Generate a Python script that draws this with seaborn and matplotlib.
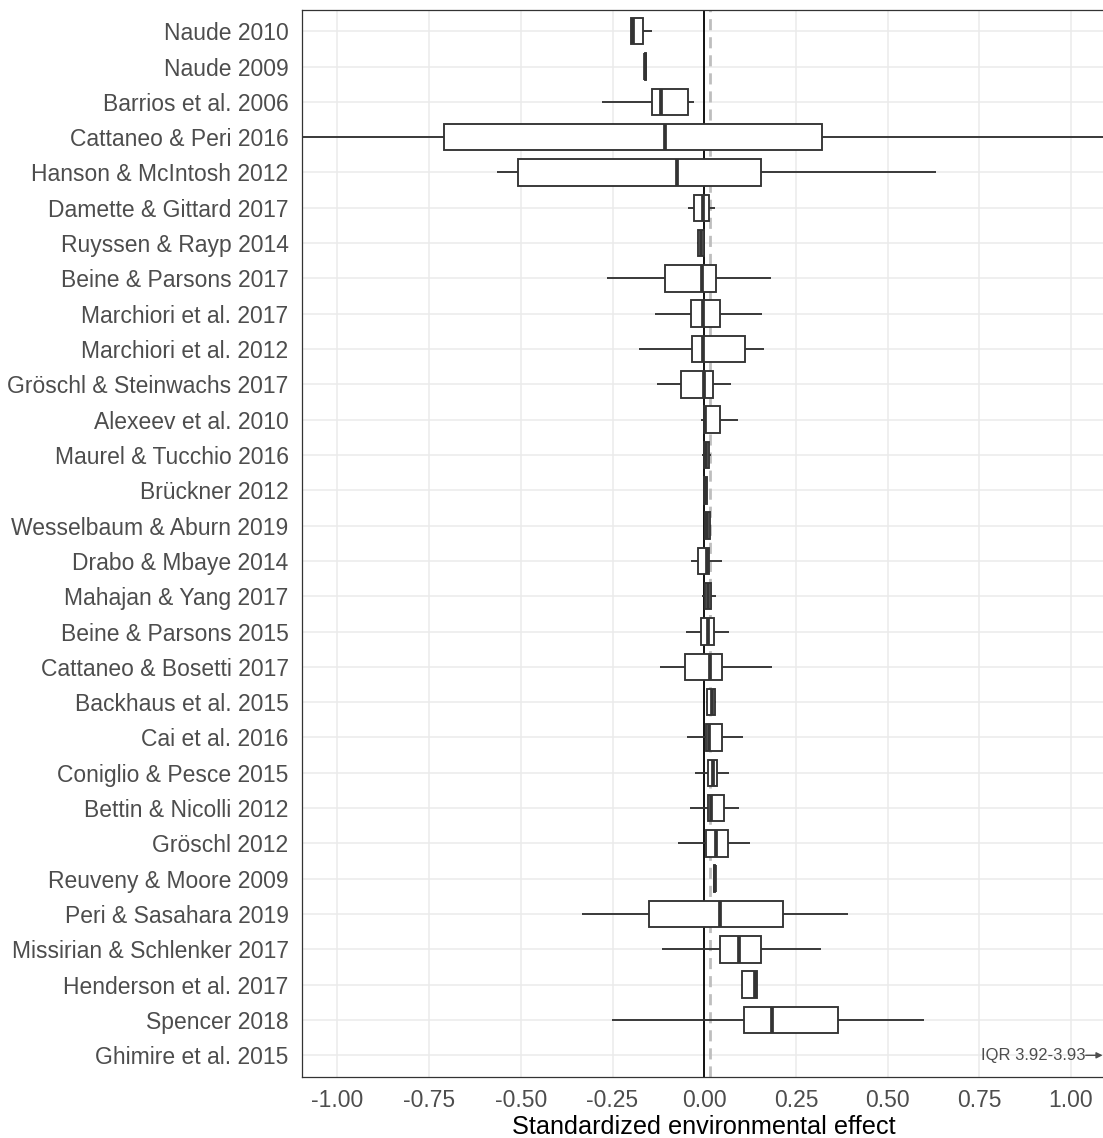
import pandas as pd
import matplotlib
matplotlib.use("Agg")
import matplotlib.pyplot as plt
import seaborn as sns

# Studies, top to bottom
studies = [
    "Naude 2010", "Naude 2009", "Barrios et al. 2006", "Cattaneo & Peri 2016",
    "Hanson & McIntosh 2012", "Damette & Gittard 2017", "Ruyssen & Rayp 2014",
    "Beine & Parsons 2017", "Marchiori et al. 2017", "Marchiori et al. 2012",
    "Gröschl & Steinwachs 2017", "Alexeev et al. 2010", "Maurel & Tucchio 2016",
    "Brückner 2012", "Wesselbaum & Aburn 2019", "Drabo & Mbaye 2014",
    "Mahajan & Yang 2017", "Beine & Parsons 2015", "Cattaneo & Bosetti 2017",
    "Backhaus et al. 2015", "Cai et al. 2016", "Coniglio & Pesce 2015",
    "Bettin & Nicolli 2012", "Gröschl 2012", "Reuveny & Moore 2009",
    "Peri & Sasahara 2019", "Missirian & Schlenker 2017", "Henderson et al. 2017",
    "Spencer 2018", "Ghimire et al. 2015",
]

# five-number summaries
whisker_low = [-0.200, -0.163, -0.279, -1.25, -0.565, -0.045, -0.019, -0.266, -0.1345, -0.178,
               -0.130, -0.008, -0.005, -0.003, 0.000, -0.037, -0.005, -0.049, -0.120, 0.006,
               -0.046, -0.024, -0.039, -0.072, 0.024, -0.333, -0.115, 0.102, -0.2505, 3.91]
q1 = [-0.200, -0.162, -0.1415, -0.7105, -0.507, -0.028, -0.017, -0.1076, -0.0368, -0.0326,
      -0.0637, -0.001, -0.002, -0.002, 0.001, -0.016, 0.001, -0.008, -0.053, 0.008,
      0.005, 0.011, 0.011, 0.0045, 0.026, -0.1515, 0.0425, 0.102, 0.109, 3.92]
median = [-0.195, -0.161, -0.119, -0.1076, -0.0736, -0.004, -0.010, -0.0071, -0.0042, -0.0042,
          -0.0014, 0.002, 0.005, 0.002, 0.008, 0.007, 0.010, 0.009, 0.017, 0.020,
          0.0136, 0.0235, 0.019, 0.031, 0.028, 0.0425, 0.0948, 0.137, 0.1854, 3.925]
q3 = [-0.168, -0.160, -0.0453, 0.3199, 0.1557, 0.0125, 0.000, 0.0326, 0.0439, 0.1104,
      0.0226, 0.042, 0.014, 0.007, 0.016, 0.0136, 0.019, 0.026, 0.049, 0.029,
      0.049, 0.035, 0.053, 0.064, 0.030, 0.2151, 0.1543, 0.144, 0.3652, 3.93]
whisker_high = [-0.143, -0.159, -0.0283, 1.30, 0.631, 0.028, 0.001, 0.1826, 0.1585, 0.1628,
                0.0722, 0.0925, 0.018, 0.008, 0.018, 0.049, 0.031, 0.067, 0.185, 0.032,
                0.105, 0.067, 0.096, 0.126, 0.031, 0.392, 0.3185, 0.144, 0.5987, 3.94]

overall_median = 0.0156
x_ticks = [-1.00, -0.75, -0.50, -0.25, 0.00, 0.25, 0.50, 0.75, 1.00]
off_chart_note = "IQR 3.92-3.93"

# long format: 5 points per study -> quartiles fall exactly on the summary values
rows = []
for i, s in enumerate(studies):
    for v in (whisker_low[i], q1[i], median[i], q3[i], whisker_high[i]):
        rows.append({"study": s, "effect": v})
df = pd.DataFrame(rows)

sns.set_style("white")
plt.rcParams["font.family"] = ["Liberation Sans", "DejaVu Sans"]

W, H = 1103, 1138
fig = plt.figure(figsize=(W / 100, H / 100), dpi=100)
ax = fig.add_axes([301.5 / W, 1 - 1076.5 / H, (1107 - 301.5) / W, (1076.5 - 10) / H])

edge = "#333333"
sns.boxplot(data=df, x="effect", y="study", order=studies, ax=ax,
            whis=(0, 100), width=0.75, color="white", linecolor=edge,
            linewidth=1.35, showcaps=False, showfliers=False,
            medianprops=dict(linewidth=2.7, color=edge, zorder=4),
            boxprops=dict(zorder=3), whiskerprops=dict(zorder=3))

ax.axvline(0, color="black", lw=1.3, zorder=1.5)
ax.axvline(overall_median, color="#BEBEBE", lw=2.0, ls=(0, (4, 2.5)), zorder=1.4)

ax.set_xlim(-1.098, 1.098)
ax.set_ylim(len(studies) - 0.4, -0.6)
ax.set_xticks(x_ticks)
ax.set_xticklabels([f"{t:.2f}" for t in x_ticks])

ax.grid(True, color="#EBEBEB", lw=1.1)
ax.set_axisbelow(True)
for sp in ax.spines.values():
    sp.set_color(edge)
    sp.set_linewidth(0.9)

ax.tick_params(axis="both", colors=edge, length=3.8, width=0.9, pad=5.5,
               labelsize=16.5, labelcolor="#4D4D4D")
ax.set_ylabel("")
ax.set_xlabel("Standardized environmental effect", fontsize=18.2, color="black", labelpad=2)

# note for the study whose box lies off the chart
ax.text(1.039, len(studies) - 1, off_chart_note, ha="right", va="center",
        fontsize=12, color="#4D4D4D")
ax.annotate("", xy=(1.086, len(studies) - 1), xytext=(1.040, len(studies) - 1),
            arrowprops=dict(arrowstyle="-|>", color="#4D4D4D", lw=1.0,
                            mutation_scale=9, shrinkA=0, shrinkB=0))

fig.savefig("out.png", dpi=100)
